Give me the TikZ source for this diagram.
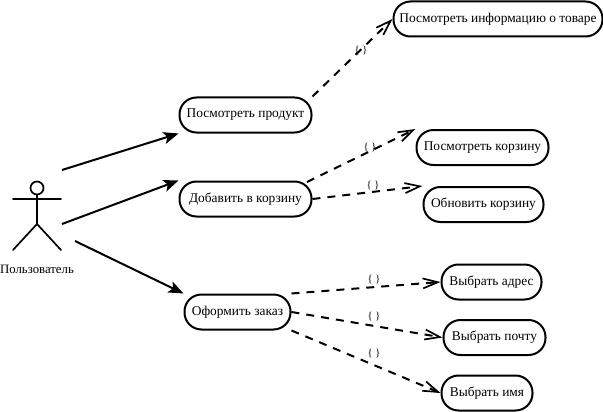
\documentclass[tikz,border=0pt]{standalone}
\usepackage{fontspec}
\setmainfont{Liberation Serif}
\usetikzlibrary{arrows.meta}
\tikzset{
  usecase/.style={draw=black,line width=2pt,fill=white,rounded corners=17pt,inner sep=0pt,font=\fontsize{13.4}{15}\selectfont,text=black},
  assoc/.style={line width=2pt,-{Stealth[length=15pt,width=12pt,inset=3.5pt]}},
  incl/.style={line width=2pt,dash pattern=on 8pt off 7pt,-{Straight Barb[length=15pt,width=10pt,line width=1.7pt]}},
  brace/.style={font=\fontsize{10.5}{12}\selectfont,text=black,inner sep=0pt},
  stick/.style={line width=1.7pt,line cap=round},
}
\newcommand{\ucase}[6]{\node[usecase,minimum width=#4pt,minimum height=#5pt] (#1) at (#2,#3) {#6};}
\begin{document}
\begin{tikzpicture}[x=1pt,y=-1pt]
\useasboundingbox (0,0) rectangle (603,412);
\ucase{info}{498}{19}{209}{35}{Посмотреть информацию о товаре}
\ucase{prod}{245.5}{115}{132}{35}{Посмотреть продукт}
\ucase{cart}{245.5}{199}{132}{35}{Добавить в корзину}
\ucase{order}{237.5}{312}{106}{35}{Оформить заказ}
\ucase{view}{482.5}{147.5}{132}{35}{Посмотреть корзину}
\ucase{upd}{483.5}{204.5}{120}{35}{Обновить корзину}
\ucase{addr}{491.5}{282}{100}{35}{Выбрать адрес}
\ucase{mail}{494.5}{337.5}{102}{35}{Выбрать почту}
\ucase{name}{487}{393}{91}{35}{Выбрать имя}
% actor
\node[circle,draw=black,line width=1.7pt,minimum size=13pt,inner sep=0pt] (head) at (37,188) {};
\coordinate (hip) at (37,224);
\coordinate (armL) at (13,199);
\coordinate (armR) at (61,199);
\coordinate (legL) at (13,250);
\coordinate (legR) at (61,250);
\draw[stick] (head) -- (hip);
\draw[stick] (armL) -- (armR);
\draw[stick] (legL) -- (hip) -- (legR);
\node[font=\fontsize{12.8}{14}\selectfont,inner sep=0pt] (user) at (37,269) {Пользователь};
\coordinate (u1) at (62,170);
\coordinate (u2) at (62,224);
\coordinate (u3) at (75,241);
\draw[assoc] (u1) -- (prod.south west);
\draw[assoc] (u2) -- (cart.north west);
\draw[assoc] (u3) -- (order.north west);
\draw[incl] (prod.north east) -- (info.west);
\coordinate (c1) at (307,182);
\draw[incl] (c1) -- (view.north west);
\draw[incl] (cart.east) -- (upd.north west);
\draw[incl] (order.north east) -- (addr.west);
\draw[incl] (order.east) -- (mail.west);
\draw[incl] (order.south east) -- (name.west);
\node[brace] (b1) at (361,51) {\{ \}};
\node[brace] (b2) at (370,148) {\{ \}};
\node[brace] (b3) at (373,186) {\{ \}};
\node[brace] (b4) at (374,280) {\{ \}};
\node[brace] (b5) at (374,317) {\{ \}};
\node[brace] (b6) at (374,354) {\{ \}};
\end{tikzpicture}
\end{document}
